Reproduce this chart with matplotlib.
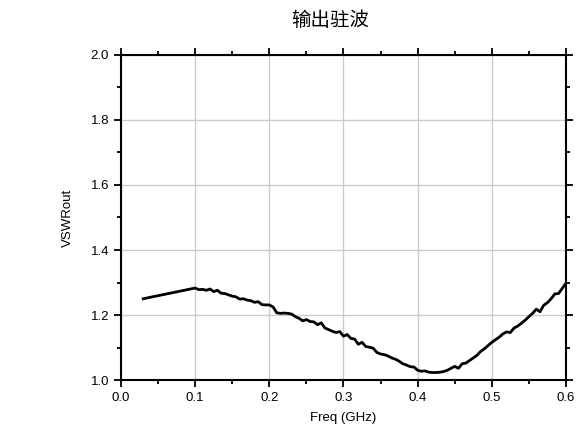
import matplotlib
matplotlib.use("Agg")
import matplotlib.pyplot as plt
from matplotlib.ticker import MultipleLocator

plt.rcParams['font.family'] = ['Liberation Sans', 'DejaVu Sans']

# 输出驻波数据
freq = [0.03, 0.100, 0.105, 0.110, 0.115, 0.120, 0.125, 0.130, 0.135, 0.140,
        0.145, 0.150, 0.155, 0.160, 0.165, 0.170, 0.175, 0.180, 0.185, 0.190,
        0.195, 0.200, 0.205, 0.210, 0.215, 0.220, 0.225, 0.230, 0.235, 0.240,
        0.245, 0.250, 0.255, 0.260, 0.265, 0.270, 0.275, 0.280, 0.285, 0.290,
        0.295, 0.300, 0.305, 0.310, 0.315, 0.320, 0.325, 0.330, 0.335, 0.340,
        0.345, 0.350, 0.355, 0.360, 0.365, 0.370, 0.375, 0.380, 0.385, 0.390,
        0.395, 0.400, 0.405, 0.410, 0.415, 0.420, 0.425, 0.430, 0.435, 0.440,
        0.445, 0.450, 0.455, 0.460, 0.465, 0.470, 0.475, 0.480, 0.485, 0.490,
        0.495, 0.500, 0.505, 0.510, 0.515, 0.520, 0.525, 0.530, 0.535, 0.540,
        0.545, 0.550, 0.555, 0.560, 0.565, 0.570, 0.575, 0.580, 0.585, 0.590,
        0.595, 0.600]
vswr = [1.250, 1.283, 1.278, 1.279, 1.276, 1.280, 1.272, 1.276, 1.267, 1.266,
        1.262, 1.258, 1.256, 1.249, 1.250, 1.246, 1.244, 1.239, 1.241, 1.232,
        1.231, 1.231, 1.225, 1.207, 1.205, 1.206, 1.205, 1.203, 1.195, 1.190,
        1.182, 1.186, 1.180, 1.179, 1.170, 1.176, 1.160, 1.155, 1.150, 1.146,
        1.149, 1.135, 1.140, 1.128, 1.126, 1.110, 1.116, 1.103, 1.101, 1.098,
        1.085, 1.080, 1.078, 1.074, 1.068, 1.064, 1.058, 1.050, 1.046, 1.041,
        1.040, 1.030, 1.027, 1.028, 1.024, 1.023, 1.023, 1.024, 1.026, 1.030,
        1.036, 1.042, 1.036, 1.050, 1.052, 1.060, 1.068, 1.076, 1.088, 1.096,
        1.106, 1.116, 1.124, 1.132, 1.142, 1.148, 1.146, 1.160, 1.166, 1.175,
        1.184, 1.195, 1.205, 1.218, 1.210, 1.230, 1.238, 1.250, 1.265, 1.266,
        1.282, 1.298]

fig = plt.figure(figsize=(5.78, 4.34), dpi=100)
ax = fig.add_axes([0.2093, 0.1244, 0.7699, 0.7489])

ax.plot(freq, vswr, color='black', lw=2)

ax.set_xlim(0, 0.6)
ax.set_ylim(1.0, 2.0)
ax.xaxis.set_major_locator(MultipleLocator(0.1))
ax.xaxis.set_minor_locator(MultipleLocator(0.05))
ax.yaxis.set_major_locator(MultipleLocator(0.2))
ax.yaxis.set_minor_locator(MultipleLocator(0.1))
ax.grid(True, which='major', color='#cccccc', lw=1)
ax.tick_params(which='both', direction='out', top=True, right=True,
               labelsize=9.5, width=1.3)
ax.tick_params(which='major', length=5)
ax.tick_params(which='minor', length=3)
for s in ax.spines.values():
    s.set_linewidth(1.5)

ax.set_xlabel('Freq (GHz)', fontsize=9.5, labelpad=6)
ax.set_ylabel('VSWRout', fontsize=9.5, labelpad=12)
fig.text(0.571, 0.953, '输出驻波', fontsize=14, ha='center', va='center',
         family=['Noto Sans CJK SC', 'DejaVu Sans'])

fig.savefig('out.png', dpi=100)
